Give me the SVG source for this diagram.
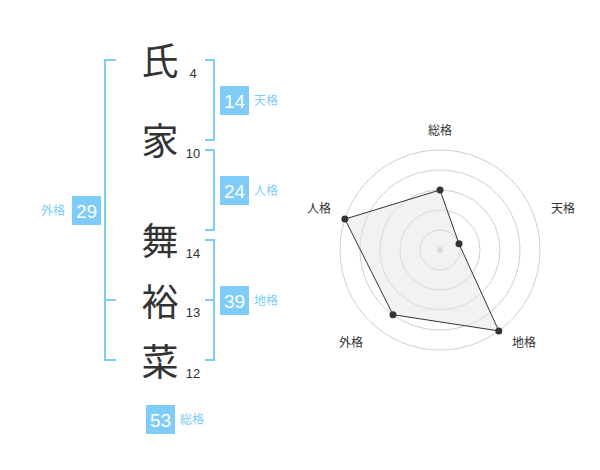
<svg xmlns="http://www.w3.org/2000/svg" width="600" height="470" viewBox="0 0 600 470">
<style>
.kanji{font-family:"Noto Sans CJK JP","Noto Sans CJK SC",sans-serif;font-size:37px;fill:#333;text-anchor:middle}
.num{font-family:"Liberation Sans",Arial,sans-serif;font-size:13px;fill:#333;text-anchor:middle}
.br{fill:none;stroke:#80ccf8;stroke-width:2}
.box{fill:#80ccf8}
.bn{font-family:"Liberation Sans",Arial,sans-serif;font-size:19px;fill:#fff;text-anchor:middle}
.bl{font-family:"Noto Sans CJK JP","Noto Sans CJK SC",sans-serif;font-size:12px;fill:#80ccf8}
.ring{fill:none;stroke:#cfcfcf;stroke-width:1}
.rl{font-family:"Noto Sans CJK JP","Noto Sans CJK SC",sans-serif;font-size:12px;fill:#333;text-anchor:middle}
.dot{fill:#333}
</style>
<rect width="600" height="470" fill="#fff"/>
<g id="chars">
<text class="kanji" x="160" y="74.5">氏</text>
<text class="kanji" x="160" y="154.5">家</text>
<text class="kanji" x="160" y="254.5">舞</text>
<text class="kanji" x="160" y="315.5">裕</text>
<text class="kanji" x="160" y="375.5">菜</text>
<text class="num" x="193" y="78">4</text>
<text class="num" x="193" y="158">10</text>
<text class="num" x="193" y="258">14</text>
<text class="num" x="193" y="317">13</text>
<text class="num" x="193" y="378">12</text>
</g>
<g id="connectors">
<path class="br" d="M116,60H105V360H116M105,300H116"/>
<path class="br" d="M205,60H214V140H205"/>
<path class="br" d="M205,150H214V230H205"/>
<path class="br" d="M205,240H214V360H205M205,300H214"/>
</g>
<g id="tenkaku">
<rect class="box" x="220" y="86" width="29" height="29"/>
<text class="bn" x="234.5" y="107.5">14</text>
<text class="bl" x="254" y="105">天格</text>
</g>
<g id="jinkaku">
<rect class="box" x="220" y="176" width="29" height="29"/>
<text class="bn" x="234.5" y="197.5">24</text>
<text class="bl" x="254" y="195">人格</text>
</g>
<g id="chikaku">
<rect class="box" x="220" y="286" width="29" height="29"/>
<text class="bn" x="234.5" y="307.5">39</text>
<text class="bl" x="254" y="305">地格</text>
</g>
<g id="gaikaku">
<rect class="box" x="72" y="196" width="29" height="29"/>
<text class="bn" x="86.5" y="217.5">29</text>
<text class="bl" x="41" y="215">外格</text>
</g>
<g id="soukaku">
<rect class="box" x="146" y="405" width="29" height="29"/>
<text class="bn" x="160.5" y="426.5">53</text>
<text class="bl" x="180" y="424">総格</text>
</g>
<g id="radar">
<circle class="ring" cx="440" cy="250" r="20"/>
<circle class="ring" cx="440" cy="250" r="40"/>
<circle class="ring" cx="440" cy="250" r="60"/>
<circle class="ring" cx="440" cy="250" r="80"/>
<circle class="ring" cx="440" cy="250" r="100"/>
<circle cx="440" cy="250" r="3" fill="#ccc"/>
<polygon points="440,190 459,243.8 498.8,330.9 393,314.7 344.9,219.1" fill="#e6e6e6" fill-opacity="0.5" stroke="#333" stroke-width="1"/>
<circle class="dot" cx="440" cy="190" r="3.5"/>
<circle class="dot" cx="459" cy="243.8" r="3.5"/>
<circle class="dot" cx="498.8" cy="330.9" r="3.5"/>
<circle class="dot" cx="393" cy="314.7" r="3.5"/>
<circle class="dot" cx="344.9" cy="219.1" r="3.5"/>
<text class="rl" x="440" y="135">総格</text>
<text class="rl" x="563" y="213">天格</text>
<text class="rl" x="524" y="346.5">地格</text>
<text class="rl" x="351" y="346.5">外格</text>
<text class="rl" x="319" y="213">人格</text>
</g>
</svg>
